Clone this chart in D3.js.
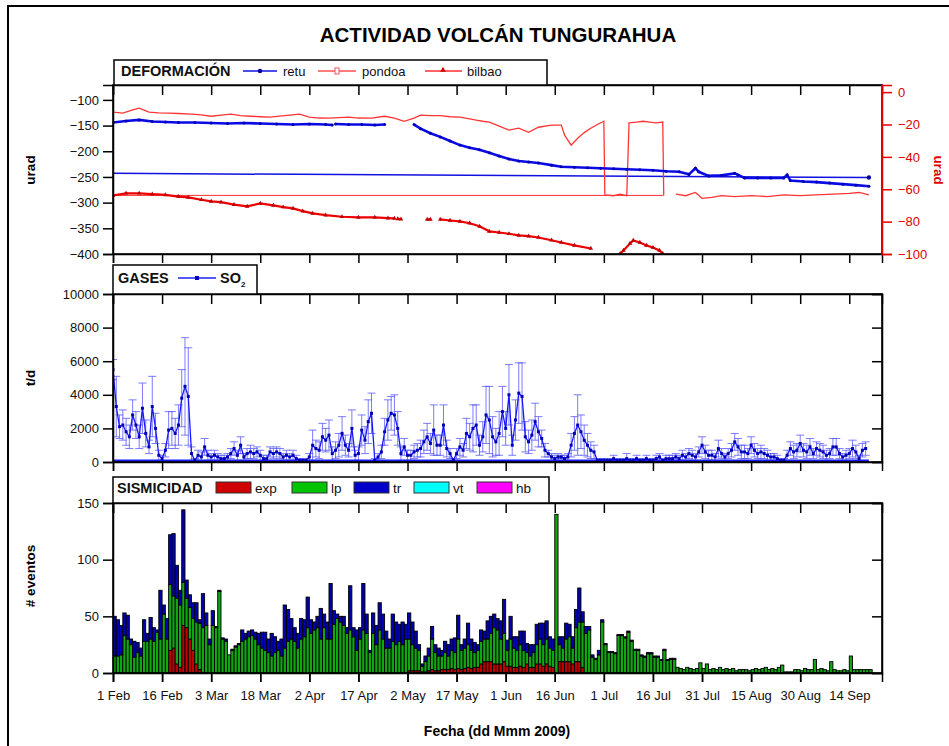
<!DOCTYPE html>
<head>
  <meta charset="utf-8">
  <script src="https://d3js.org/d3.v7.min.js"></script>
  <style>
    body { margin:0; background-color:#fff; }
    svg text { font-family: "Liberation Sans", Arial, sans-serif; }
  </style>
</head>
<body>
<div class="chart-container"></div>
<script>
// ---------------- datos ----------------
// dias contados desde el 1 Feb 2009
var ejeDias = [0, 15, 30, 45, 60, 75, 90, 105, 120, 135, 150, 165, 180, 195, 210, 225];

// DEFORMACION: retu en el eje izquierdo (urad), pondoa y bilbao en el eje derecho
var retuDia = [0,4,8,12,16,20,25,30,35,40, 45,50,55,60,65,67,null,68,72,76, 80,83,null,92,94,97,100,103,106,109,
  112,115,118,121,124,127,130,134,137,141, 145,149,153,157,161,165,169,173,176,178, 179,182,186,190,191,193,197,201,205,206,
  207,211,215,219,223,227,231];
var retuVal = [-144,-141,-139,-142,-143,-144,-144,-145,-146,-145, -146,-147,-148,-147,-148,-149,null,-147,-148,-148,
  -149,-148,null,-148,-156,-165,-172,-180,-188,-193, -197,-203,-209,-215,-219,-221,-223,-227,-230,-231,
  -232,-233,-234,-235,-236,-237,-239,-240,-245,-233, -240,-248,-247,-243,-246,-252,-252,-252,-252,-246,
  -257,-259,-260,-262,-264,-266,-268];
var retuRef = [-243, -251];

var pondoaDia = [0,3,6,8,11,14,17,20,24,27, 30,33,36,39,42,45,48,51,54,57, 60,63,66,69,72,75,79,83,86,89,
  92,94,97,100,103,106,109,111,113,115, 118,121,124,127,130,134,137,138,140,142, 144,146,148,150,150.3,153,155,157,157.7,160,
  162,164,166,168,168.3,null,172,175,178,180, 183,186,190,195,200,205,210,215,220,225, 228,231];
var pondoaVal = [-12.4,-13,-11,-9.9,-12.4,-12.8,-13,-13.2,-13.6,-14, -14.9,-14.2,-13.6,-14.5,-14.9,-15.2,-15.5,-14.8,-14.2,-13.6,
  -15.5,-16,-16.1,-15.8,-15.5,-16,-16.1,-14.9,-16,-18, -16,-14.2,-14.5,-14.5,-15.2,-15.5,-16.5,-17.3,-18,-18.6,
  -21,-23.5,-22.3,-24.8,-21.7,-20.4,-20.4,-26.6,-32.8,-28.5, -25,-22.3,-20,-18,-63.5,-64,-63,-64,-19,-18.5,
  -18,-18.5,-19,-18.5,-63.5,null,-63,-64,-62,-65.6, -65,-64,-64.5,-64,-64.5,-63.5,-64,-63.5,-63,-62.5, -62,-63.5];
var pondoaRef = -63.8;

var bilbaoDia = [0,4,8,12,16,20,23,27,30,33, 37,41,45,49,52,55,58,61,65,70, 75,80,84,86,null,87,88,null,96,97,
  null,100,103,106,109,112,115,118,121,124, 127,130,134,137,141,146,null,155,156,158, 159,161,163,165,167,168];
var bilbaoVal = [-63.8,-62.5,-62.5,-63,-63.5,-64.5,-65,-66.5,-67.5,-68, -69.5,-70.6,-68.7,-70,-71,-71.8,-73.5,-74.9,-76,-77,
  -77.4,-77.4,-77.8,-78,null,-78.3,-78.5,null,-78.6,-78.6, null,-78.6,-79.3,-79.9,-81,-82.9,-86,-86.7,-87.5,-88.5,
  -89,-89.8,-91.5,-92.9,-94.7,-96.6,null,-99.7,-97.8,-93.5, -91.6,-92.9,-94.7,-96,-97.8,-99.7];

// GASES: SO2 diario (t/d) y su error
var so2 = [5500,3300,2100,2200,1800,1500,2800,2200,1500,3200, 1700,900,3300,2000,400,200,700,1900,2000,1700,
  2200,3800,4500,3900,500,100,400,300,900,400, 300,400,300,200,200,300,500,800,400,1000,
  300,500,600,500,600,400,200,200,600,500, 600,500,300,400,300,400,200,100,100,100,
  300,1000,800,700,1500,1300,1600,500,700,1000, 1700,1000,700,2000,400,500,1900,1300,2400,2900,
  100,300,600,1800,2500,2900,2800,2000,500,900, 400,400,600,700,800,1200,1500,1100,1900,1000,
  1000,2200,800,500,100,500,900,700,1700,1500, 2000,2200,1000,1500,2800,2500,1500,1200,1700,3000,
  2000,4000,1000,2500,4100,3900,1500,1200,1600,2400, 1800,1400,700,500,300,200,300,300,200,300,
  1000,1700,2200,1800,1300,1000,700,600,100,100, 100,100,100,200,100,100,100,200,100,100,
  200,100,100,200,100,100,200,300,100,200, 200,200,300,200,400,300,500,400,300,600,
  1000,600,400,400,300,800,500,300,500,700, 1200,900,600,600,500,1000,700,500,600,500,
  400,300,300,200,100,100,400,800,600,700, 1100,700,600,900,500,800,700,600,400,500,
  900,900,500,300,400,500,800,600,200,700, 800];
var so2Err = [600,1800,700,900,800,700,900,800,700,1500, 800,400,1800,900,300,200,400,1100,1000,900,
  1200,1700,2900,2900,400,100,300,300,500,300, 200,300,200,200,200,200,300,400,300,500,
  200,300,400,300,300,300,200,200,300,300, 300,300,200,300,200,300,200,100,100,100,
  200,900,500,500,800,700,900,400,500,700, 1000,600,400,1100,300,400,900,800,1300,1200,
  100,200,400,800,1200,1000,1200,1000,400,500, 300,300,400,400,500,700,800,600,1500,600,
  600,1200,500,300,100,300,500,400,900,800, 1400,1200,600,900,1700,2000,1200,800,1300,1500,
  1000,1800,600,1200,1800,2000,900,700,900,1100, 900,500,400,200,200,200,200,100,200,200,
  700,1000,1800,1000,900,700,500,400,100,100, 100,100,100,200,100,100,100,300,100,100,
  200,100,100,200,100,100,200,200,100,200, 200,200,200,200,300,200,300,300,200,300,
  500,400,300,300,200,500,300,200,300,400, 500,500,400,400,300,500,400,300,400,300,
  300,200,200,200,100,100,300,400,400,400, 500,400,400,500,300,400,400,400,300,300,
  500,500,300,200,300,300,500,400,200,400, 400];

// SISMICIDAD: eventos diarios por tipo
var sisExp = [0,0,0,0,0,0,0,0,0,0, 0,0,0,0,0,0,0,20,22,8, 5,42,40,30,20,8,3,0,0,0,
  0,0,0,0,0,0,0,0,0,0, 0,0,0,0,0,0,0,0,0,0, 0,0,0,0,0,0,0,0,0,0,
  0,0,0,0,0,0,0,0,0,0, 0,0,0,0,0,0,0,0,0,0, 0,0,0,0,0,0,0,0,0,0,
  2,2,2,2,1,1,2,3,2,2, 3,3,3,4,3,4,3,4,5,4, 5,5,8,10,10,10,8,8,8,10,
  6,6,5,5,6,5,8,5,5,8, 8,6,8,6,5,0,10,10,10,10, 8,10,10,5,0,0,0,0,0,0,
  0,0,0,0,0,0,0,0,0,0, 0,0,0,0,0,0,0,0,0,0, 0,0,0,0,0,0,0,0,0,0,
  0,0,0,0,0,0,0,0,0,0, 0,0,0,0,0,0,0,0,0,0, 0,0,0,0,0,0,0,0,0,0,
  0,0,0,0,0,0,0,0,0,0, 0,0];
var sisLp = [15,15,16,33,30,25,14,18,15,28, 28,30,28,36,30,52,30,58,46,58, 55,38,26,28,28,37,41,40,42,25,
  42,40,72,30,28,16,20,23,25,28, 30,32,33,30,25,22,20,18,15,18, 20,15,22,28,30,28,22,30,32,40,
  35,38,40,30,40,30,30,43,48,45, 42,35,38,32,20,30,38,35,18,35, 25,38,30,22,22,28,25,28,25,30,
  28,23,20,18,5,9,13,27,16,13, 12,15,12,16,15,26,17,18,20,16, 13,15,20,20,20,25,32,30,22,25,
  14,24,17,15,19,15,10,10,13,17, 22,19,22,16,15,140,15,12,20,22, 14,30,35,40,35,38,14,12,16,45,
  25,18,18,17,33,33,31,36,28,20, 20,15,14,17,17,14,14,11,20,11, 12,12,5,4,3,5,4,3,4,9,
  4,8,3,4,3,5,3,4,3,4, 2,3,3,3,2,3,4,3,4,5, 3,4,3,5,7,1,1,1,3,3,
  2,4,3,3,12,3,4,3,2,10, 3,2,2,3,2,15,3,3,3,3, 3,3];
var sisTr = [35,32,26,20,21,5,14,9,7,19, 7,19,12,2,43,8,18,44,55,29, 13,64,16,11,14,17,3,30,11,5,
  13,1,1,1,2,0,1,1,1,10, 5,5,5,6,10,14,16,12,20,14, 8,15,38,28,18,12,13,18,15,27,
  12,7,10,27,12,15,49,12,4,5, 8,5,39,8,18,10,41,17,2,18, 17,24,22,15,8,24,20,15,20,13,
  23,20,15,5,2,5,7,11,7,7, 5,10,10,10,13,21,5,8,19,10, 9,5,10,7,16,15,12,10,16,30,
  9,20,10,12,12,17,8,10,7,18, 14,19,16,10,10,0,7,10,14,11, 10,16,30,9,6,3,2,1,4,2,
  1,1,1,1,1,1,1,1,1,1, 1,1,1,1,1,1,1,1,1,1, 1,1,0,0,0,0,0,0,0,0,
  0,0,0,0,0,0,0,0,0,0, 0,0,0,0,0,0,0,0,0,0, 0,0,0,0,0,0,0,0,0,0,
  0,0,0,0,0,0,0,0,0,0, 0,0,0,0,0,0,0,0,0,0, 0,0];
var sisVt = [];   // sin eventos vt en el periodo
var sisHb = [];   // sin eventos hb en el periodo

// ---------------- grafico ----------------
var svg = d3.select(".chart-container").append("svg")
  .attr("width", 949).attr("height", 746);

svg.append("path").attr("d", "M8,760V6H960")
  .attr("fill", "none").attr("stroke", "#000").attr("stroke-width", 2);

var t0 = Date.UTC(2009, 1, 1);
function fecha(d) { return new Date(t0 + d * 864e5); }

var x = d3.scaleUtc().domain([fecha(0), fecha(235)]).range([113, 882]);
var izq = 113, der = 882;

var p1 = {top: 85, bottom: 254}, p2 = {top: 294, bottom: 462}, p3 = {top: 503, bottom: 673};

var yRetu = d3.scaleLinear().domain([-400, -71]).range([p1.bottom, p1.top]);
var yRojo = d3.scaleLinear().domain([-100, 4.4]).range([p1.bottom, p1.top]);
var yGas = d3.scaleLinear().domain([0, 10000]).range([p2.bottom, p2.top]);
var ySis = d3.scaleLinear().domain([0, 150]).range([p3.bottom, p3.top]);

var defs = svg.append("defs");
[p1, p2, p3].forEach(function(p, i) {
  defs.append("clipPath").attr("id", "c" + (i + 1))
    .append("rect").attr("x", izq).attr("y", p.top).attr("width", der - izq).attr("height", p.bottom - p.top);
});

// titulo
svg.append("text").attr("x", 498).attr("y", 42).attr("text-anchor", "middle")
  .attr("font-size", 20.5).attr("font-weight", "bold").text("ACTIVIDAD VOLCÁN TUNGURAHUA");

function serie(dias, vals) {
  return dias.map(function(d, i) { return {d: d, v: vals[i]}; });
}

// ---- panel 1: deformacion ----
var g1 = svg.append("g").attr("clip-path", "url(#c1)");

// lineas de referencia
g1.append("line").attr("x1", x(fecha(0))).attr("x2", x(fecha(168.3)))
  .attr("y1", yRojo(pondoaRef)).attr("y2", yRojo(pondoaRef))
  .attr("stroke", "#ff3030").attr("stroke-width", 1);
g1.append("line").attr("x1", x(fecha(0))).attr("x2", x(fecha(231)))
  .attr("y1", yRetu(retuRef[0])).attr("y2", yRetu(retuRef[1]))
  .attr("stroke", "#1010e0").attr("stroke-width", 1.5);
g1.append("circle").attr("cx", x(fecha(231))).attr("cy", yRetu(retuRef[1])).attr("r", 2.2).attr("fill", "#0000a0");

var lineaRojo = d3.line().defined(function(p) { return p.v != null; })
  .x(function(p) { return x(fecha(p.d)); }).y(function(p) { return yRojo(p.v); });
var lineaRetu = d3.line().defined(function(p) { return p.v != null; })
  .x(function(p) { return x(fecha(p.d)); }).y(function(p) { return yRetu(p.v); });

var datosPondoa = serie(pondoaDia, pondoaVal);
var datosBilbao = serie(bilbaoDia, bilbaoVal);
var datosRetu = serie(retuDia, retuVal);

g1.append("path").attr("d", lineaRojo(datosPondoa))
  .attr("fill", "none").attr("stroke", "#ff3535").attr("stroke-width", 1.3);
g1.append("path").attr("d", lineaRojo(datosBilbao))
  .attr("fill", "none").attr("stroke", "#ee0000").attr("stroke-width", 2.2);
g1.selectAll("path.tri").data(datosBilbao.filter(function(p) { return p.v != null; })).join("path")
  .attr("class", "tri")
  .attr("transform", function(p) { return "translate(" + x(fecha(p.d)) + "," + yRojo(p.v) + ")"; })
  .attr("d", d3.symbol(d3.symbolTriangle).size(9)).attr("fill", "#c00000");
g1.append("path").attr("d", lineaRetu(datosRetu))
  .attr("fill", "none").attr("stroke", "#0a0ae6").attr("stroke-width", 2.6);
g1.selectAll("circle.retu").data(datosRetu.filter(function(p) { return p.v != null; })).join("circle")
  .attr("class", "retu")
  .attr("cx", function(p) { return x(fecha(p.d)); }).attr("cy", function(p) { return yRetu(p.v); })
  .attr("r", 1.5).attr("fill", "#0000b0");

// ---- panel 2: gases ----
var g2 = svg.append("g").attr("clip-path", "url(#c2)");
var datosSo2 = so2.map(function(v, i) { return {d: i, v: v, e: so2Err[i]}; });

var err = g2.selectAll("g.err").data(datosSo2).join("g").attr("class", "err")
  .attr("stroke", "#5a5aff").attr("stroke-width", 0.8);
err.append("line")
  .attr("x1", function(p) { return x(fecha(p.d)); }).attr("x2", function(p) { return x(fecha(p.d)); })
  .attr("y1", function(p) { return yGas(p.v - p.e); }).attr("y2", function(p) { return yGas(p.v + p.e); });
err.append("line")
  .attr("x1", function(p) { return x(fecha(p.d)) - 4; }).attr("x2", function(p) { return x(fecha(p.d)) + 4; })
  .attr("y1", function(p) { return yGas(p.v + p.e); }).attr("y2", function(p) { return yGas(p.v + p.e); });
err.append("line")
  .attr("x1", function(p) { return x(fecha(p.d)) - 4; }).attr("x2", function(p) { return x(fecha(p.d)) + 4; })
  .attr("y1", function(p) { return yGas(p.v - p.e); }).attr("y2", function(p) { return yGas(p.v - p.e); });

g2.append("line").attr("x1", izq).attr("x2", x(fecha(231))).attr("y1", yGas(0) - 1).attr("y2", yGas(0) - 1)
  .attr("stroke", "#1a1aff").attr("stroke-width", 3);

g2.append("path").datum(datosSo2)
  .attr("d", d3.line().x(function(p) { return x(fecha(p.d)); }).y(function(p) { return yGas(p.v); }))
  .attr("fill", "none").attr("stroke", "#1818ff").attr("stroke-width", 1.3);
g2.selectAll("rect.so2").data(datosSo2).join("rect").attr("class", "so2")
  .attr("x", function(p) { return x(fecha(p.d)) - 1.5; }).attr("y", function(p) { return yGas(p.v) - 1.5; })
  .attr("width", 3).attr("height", 3).attr("fill", "#0000b4");

// ---- panel 3: sismicidad ----
var g3 = svg.append("g").attr("clip-path", "url(#c3)");
var tipos = ["exp", "lp", "tr", "vt", "hb"];
var colores = {exp: "#d00000", lp: "#00c400", tr: "#0000c8", vt: "#00ffff", hb: "#ff00ff"};
var coloresBarra = {exp: "#c00000", lp: "#10a810", tr: "#0000b0", vt: "#00ffff", hb: "#ff00ff"};
var filas = sisLp.map(function(v, i) {
  return {dia: i, exp: sisExp[i], lp: v, tr: sisTr[i], vt: sisVt[i] || 0, hb: sisHb[i] || 0};
});
var pilas = d3.stack().keys(tipos)(filas);
g3.selectAll("g.capa").data(pilas).join("g").attr("class", "capa")
  .attr("fill", function(s) { return coloresBarra[s.key]; })
  .selectAll("rect").data(function(s) { return s.filter(function(e) { return e[1] > e[0]; }); }).join("rect")
  .attr("x", function(e) { return x(fecha(e.data.dia)); })
  .attr("width", function(e) { return x(fecha(e.data.dia + 1)) - x(fecha(e.data.dia)); })
  .attr("y", function(e) { return ySis(e[1]); })
  .attr("height", function(e) { return ySis(e[0]) - ySis(e[1]); })
  .attr("stroke", "#000").attr("stroke-width", 0.9);

// ---- ejes y marcos ----
var valoresX = ejeDias.map(fecha);

function ejesPanel(p, yEsc, valoresY, conDerecho) {
  svg.append("g").attr("transform", "translate(0," + p.top + ")")
    .call(d3.axisTop(x).tickValues(valoresX).tickSize(-10).tickFormat(""));
  svg.append("g").attr("transform", "translate(0," + p.bottom + ")")
    .call(d3.axisBottom(x).tickValues(valoresX).tickSize(9).tickFormat(""));
  svg.append("g").attr("transform", "translate(" + izq + ",0)")
    .call(d3.axisLeft(yEsc).tickValues(valoresY).tickSize(10).tickPadding(4).tickFormat(d3.format("d")));
  if (conDerecho) {
    svg.append("g").attr("transform", "translate(" + der + ",0)")
      .call(d3.axisRight(yEsc).tickValues(valoresY).tickSize(-10).tickFormat(""));
  }
  svg.append("rect").attr("x", izq).attr("y", p.top).attr("width", der - izq).attr("height", p.bottom - p.top)
    .attr("fill", "none").attr("stroke", "#000").attr("stroke-width", 1.6);
}

ejesPanel(p1, yRetu, [-400, -350, -300, -250, -200, -150, -100], false);
ejesPanel(p2, yGas, [0, 2000, 4000, 6000, 8000, 10000], true);
ejesPanel(p3, ySis, [0, 50, 100, 150], true);

// eje derecho rojo del panel 1
var ejeRojo = svg.append("g").attr("transform", "translate(" + der + ",0)")
  .call(d3.axisRight(yRojo).tickValues([-100, -80, -60, -40, -20, 0]).tickSize(10).tickPadding(6).tickFormat(d3.format("d")));
ejeRojo.selectAll("line").attr("stroke", "#e00000");
ejeRojo.select(".domain").attr("stroke", "#e00000");
svg.append("line").attr("x1", der).attr("x2", der).attr("y1", p1.top).attr("y2", p1.bottom)
  .attr("stroke", "#e00000").attr("stroke-width", 2);

// etiquetas de fecha
svg.append("g").attr("transform", "translate(0," + p3.bottom + ")")
  .call(d3.axisBottom(x).tickValues(valoresX).tickSize(9).tickPadding(9).tickFormat(d3.utcFormat("%-d %b")))
  .call(function(g) { g.select(".domain").remove(); });

svg.selectAll(".tick line").attr("stroke-width", 1.5);
svg.selectAll(".domain").attr("stroke-width", 1.5);
svg.selectAll(".tick text").attr("font-size", 13).attr("fill", "#111");
ejeRojo.selectAll("text").attr("fill", "#e00000");

svg.append("text").attr("x", 497).attr("y", 736).attr("text-anchor", "middle")
  .attr("font-size", 14).attr("font-weight", "bold").text("Fecha (dd Mmm 2009)");

function tituloY(texto, cy) {
  svg.append("text").attr("transform", "translate(35," + cy + ") rotate(-90)")
    .attr("text-anchor", "middle").attr("font-size", 13.5).attr("font-weight", "bold").text(texto);
}
tituloY("urad", 170);
tituloY("t/d", 378);
tituloY("# eventos", 576);
svg.append("text").attr("transform", "translate(934,170) rotate(90)")
  .attr("text-anchor", "middle").attr("font-size", 13.5).attr("font-weight", "bold")
  .attr("fill", "#e00000").text("urad");

// ---- leyendas ----
function caja(x0, y0, x1, y1) {
  svg.append("rect").attr("x", x0).attr("y", y0).attr("width", x1 - x0).attr("height", y1 - y0)
    .attr("fill", "#fff").attr("stroke", "#000").attr("stroke-width", 1.5);
}
function texto(tx, ty, t, negrita, tam, col) {
  return svg.append("text").attr("x", tx).attr("y", ty).attr("font-size", tam)
    .attr("font-weight", negrita ? "bold" : "normal").attr("fill", col || "#111").text(t);
}

caja(114, 60, 547, p1.top);
texto(121, 76, "DEFORMACIÓN", true, 14.5);
svg.append("line").attr("x1", 243).attr("x2", 277).attr("y1", 71).attr("y2", 71).attr("stroke", "#1010e0").attr("stroke-width", 1.5);
svg.append("circle").attr("cx", 260).attr("cy", 71).attr("r", 2.2).attr("fill", "#0000a0");
texto(283, 76, "retu", false, 13);
svg.append("line").attr("x1", 318).attr("x2", 356).attr("y1", 71).attr("y2", 71).attr("stroke", "#ff5050").attr("stroke-width", 1.3);
svg.append("rect").attr("x", 335).attr("y", 68).attr("width", 4).attr("height", 6).attr("fill", "#fff").attr("stroke", "#ff5050").attr("stroke-width", 1);
texto(362, 76, "pondoa", false, 13);
svg.append("line").attr("x1", 425).attr("x2", 462).attr("y1", 71).attr("y2", 71).attr("stroke", "#ff3030").attr("stroke-width", 1.3);
svg.append("path").attr("transform", "translate(443,70)").attr("d", d3.symbol(d3.symbolTriangle).size(14)).attr("fill", "#d00000");
texto(467, 76, "bilbao", false, 13);

caja(113, 265, 257, p2.top);
texto(118, 283, "GASES", true, 14.5);
svg.append("line").attr("x1", 178).attr("x2", 216).attr("y1", 278).attr("y2", 278).attr("stroke", "#2020ff").attr("stroke-width", 1.3);
svg.append("rect").attr("x", 195).attr("y", 276).attr("width", 4).attr("height", 4).attr("fill", "#0000b4");
texto(220, 283, "SO", true, 14.5);
texto(241, 287, "2", true, 8);

caja(113, 477, 549, p3.top);
texto(117, 493, "SISMICIDAD", true, 14.5);
var itemsSis = [
  {k: "exp", x: 216, t: "exp"}, {k: "lp", x: 292, t: "lp"}, {k: "tr", x: 354, t: "tr"},
  {k: "vt", x: 414, t: "vt"}, {k: "hb", x: 477, t: "hb"}
];
itemsSis.forEach(function(it) {
  svg.append("rect").attr("x", it.x).attr("y", 482).attr("width", 35).attr("height", 11)
    .attr("fill", colores[it.k]).attr("stroke", "#333").attr("stroke-width", 1);
  texto(it.x + 39, 493, it.t, false, 13.5);
});
</script>
</body>
